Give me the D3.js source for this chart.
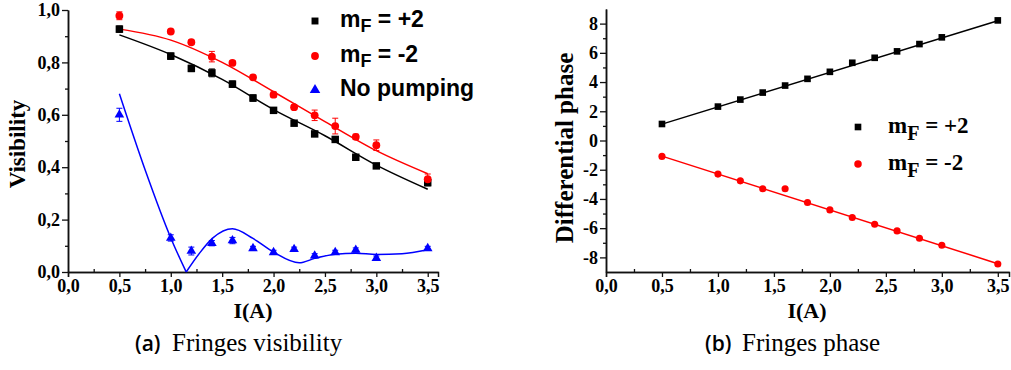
<!DOCTYPE html>
<html>
<head>
<meta charset="utf-8">
<script src="https://cdn.jsdelivr.net/npm/d3@7"></script>
<style>
  body { margin: 0; background: #fff; }
  svg { display: block; }
</style>
</head>
<body>
<script>
// measured currents (A)
const currents = [0.5, 1.0, 1.2, 1.4, 1.6, 1.8, 2.0, 2.2, 2.4, 2.6, 2.8, 3.0, 3.5];

// (a) fringe visibility
const visPlus = [0.927, 0.824, 0.777, 0.76, 0.717, 0.664, 0.617, 0.568, 0.527, 0.506, 0.438, 0.405, 0.341];
const visPlusErr = [0.012, 0.012, 0.012, 0.015, 0.012, 0.012, 0.01, 0.008, 0.008, 0.008, 0.008, 0.008, 0.012];
const visMinus = [0.978, 0.918, 0.877, 0.822, 0.798, 0.743, 0.677, 0.629, 0.598, 0.557, 0.516, 0.484, 0.354];
const visMinusErr = [0.015, 0.008, 0.008, 0.02, 0.008, 0.008, 0.01, 0.008, 0.02, 0.03, 0.01, 0.02, 0.02];
const visNone = [0.60, 0.13, 0.08, 0.11, 0.12, 0.09, 0.075, 0.087, 0.062, 0.075, 0.084, 0.053, 0.09];
const visNoneErr = [0.025, 0.012, 0.015, 0.01, 0.012, 0.008, 0.008, 0.008, 0.008, 0.008, 0.008, 0.008, 0.008];

// fit curves
const fitX = [0.5, 1.0, 1.5, 2.0, 2.5, 3.0, 3.5];
const fitPlus = [0.905, 0.83, 0.735, 0.62, 0.52, 0.408, 0.316];
const fitMinus = [0.927, 0.885, 0.80, 0.688, 0.574, 0.463, 0.375];
const noneFitX1 = [0.5, 0.75, 1.0, 1.15];
const noneFit1 = [0.68, 0.39, 0.13, 0.0];
const noneFitX2 = [1.15, 1.28, 1.41, 1.6, 1.8, 2.0, 2.25, 2.4, 2.6, 2.8, 3.0, 3.25, 3.5];
const noneFit2 = [0.0, 0.072, 0.13, 0.165, 0.128, 0.076, 0.035, 0.052, 0.068, 0.072, 0.067, 0.07, 0.085];

// (b) differential phase
const phasePlus = [1.13, 2.32, 2.8, 3.28, 3.76, 4.22, 4.70, 5.32, 5.66, 6.1, 6.6, 7.06, 8.22];
const phaseMinus = [-1.09, -2.3, -2.76, -3.3, -3.3, -4.24, -4.75, -5.27, -5.73, -6.19, -6.69, -7.17, -8.45];
const phaseFitX = [0.5, 3.5];
const phaseFitPlus = [1.12, 8.2];
const phaseFitMinus = [-1.07, -8.43];

const xTicks = [0, 0.5, 1.0, 1.5, 2.0, 2.5, 3.0, 3.5];
const xMinor = [0.25, 0.75, 1.25, 1.75, 2.25, 2.75, 3.25];
const visTicks = [0, 0.2, 0.4, 0.6, 0.8, 1.0];
const visMinor = [0.1, 0.3, 0.5, 0.7, 0.9];
const phaseTicks = [-8, -6, -4, -2, 0, 2, 4, 6, 8];
const phaseMinor = [-7, -5, -3, -1, 1, 3, 5, 7];

const W = 1011, H = 370;
const serif = "'Liberation Serif', 'Times New Roman', serif";
const sans = "'Liberation Sans', Arial, sans-serif";

const loc = d3.formatLocale({decimal: ",", thousands: ".", grouping: [3], currency: ["", ""], minus: "-"});
const f1 = loc.format(".1f");
const fInt = loc.format("d");

const svg = d3.select("body").append("svg")
    .attr("width", W)
    .attr("height", H);

svg.append("rect").attr("width", W).attr("height", H).attr("fill", "#fff");

function drawAxes(g, x, y, yTicks, yMinor, yFmt) {
    let xa = g.append("g").attr("transform", "translate(0," + y.range()[0] + ")");
    xa.call(d3.axisBottom(x).tickValues(xTicks).tickSize(5).tickPadding(2).tickFormat(f1));
    xa.append("g").call(d3.axisBottom(x).tickValues(xMinor).tickSizeInner(-3).tickSizeOuter(0).tickFormat(""));

    let ya = g.append("g").attr("transform", "translate(" + x.range()[0] + ",0)");
    ya.call(d3.axisLeft(y).tickValues(yTicks).tickSizeInner(6).tickSizeOuter(0).tickPadding(2).tickFormat(yFmt));
    ya.append("g").call(d3.axisLeft(y).tickValues(yMinor).tickSizeInner(3).tickSizeOuter(0).tickFormat(""));

    g.selectAll(".domain").attr("stroke", "#111").attr("stroke-width", 1.5);
    g.selectAll(".tick line").attr("stroke", "#111").attr("stroke-width", 1.3);
    g.selectAll(".tick text")
        .style("font-family", serif)
        .style("font-weight", "bold")
        .style("font-size", "18px")
        .attr("fill", "#000");
}

function errorBars(g, x, y, xs, ys, es, color) {
    let eb = g.append("g");
    xs.forEach(function (xv, i) {
        let x0 = x(xv), y1 = y(ys[i] - es[i]), y2 = y(ys[i] + es[i]);
        eb.append("line").attr("x1", x0).attr("x2", x0).attr("y1", y1).attr("y2", y2)
            .attr("stroke", color).attr("stroke-width", 1);
        [y1, y2].forEach(function (yy) {
            eb.append("line").attr("x1", x0 - 3).attr("x2", x0 + 3).attr("y1", yy).attr("y2", yy)
                .attr("stroke", color).attr("stroke-width", 1);
        });
    });
}

function line(g, x, y, xs, ys, color, curve) {
    g.append("path")
        .datum(xs.map((v, i) => [v, ys[i]]))
        .attr("fill", "none")
        .attr("stroke", color)
        .attr("stroke-width", 1.5)
        .attr("d", d3.line().x(d => x(d[0])).y(d => y(d[1])).curve(curve || d3.curveLinear));
}

function markers(g, x, y, xs, ys, type, size, color) {
    g.append("g").selectAll("path")
        .data(xs.map((v, i) => [v, ys[i]]))
        .enter().append("path")
        .attr("transform", d => "translate(" + x(d[0]) + "," + y(d[1]) + ")")
        .attr("d", d3.symbol().type(type).size(size))
        .attr("fill", color);
}

// ---------- panel (a) ----------
let xa = d3.scaleLinear().domain([0, 3.6]).range([68, 438]);
let ya = d3.scaleLinear().domain([0, 1]).range([272, 10]);
let ga = svg.append("g");
drawAxes(ga, xa, ya, visTicks, visMinor, f1);

line(ga, xa, ya, fitX, fitPlus, "#000", d3.curveMonotoneX);
line(ga, xa, ya, fitX, fitMinus, "#ff0000", d3.curveMonotoneX);
line(ga, xa, ya, noneFitX1, noneFit1, "#0000ff", d3.curveMonotoneX);
line(ga, xa, ya, noneFitX2, noneFit2, "#0000ff", d3.curveMonotoneX);

errorBars(ga, xa, ya, currents, visPlus, visPlusErr, "#000");
errorBars(ga, xa, ya, currents, visMinus, visMinusErr, "#ff0000");
errorBars(ga, xa, ya, currents, visNone, visNoneErr, "#0000ff");
markers(ga, xa, ya, currents, visPlus, d3.symbolSquare, 56, "#000");
markers(ga, xa, ya, currents, visMinus, d3.symbolCircle, 48, "#ff0000");
markers(ga, xa, ya, currents, visNone, d3.symbolTriangle, 40, "#0000ff");

ga.append("text")
    .attr("transform", "translate(25,144) rotate(-90)")
    .attr("text-anchor", "middle")
    .attr("font-family", serif).attr("font-weight", "bold").attr("font-size", 23)
    .text("Visibility");
ga.append("text")
    .attr("x", 253).attr("y", 318)
    .attr("text-anchor", "middle")
    .attr("font-family", serif).attr("font-weight", "bold").attr("font-size", 22)
    .text("I(A)");

// legend (a)
const legA = [
    {sym: d3.symbolSquare, color: "#000", label: ["m", "F", " = +2"], y: 27},
    {sym: d3.symbolCircle, color: "#ff0000", label: ["m", "F", " = -2"], y: 62},
    {sym: d3.symbolTriangle, color: "#0000ff", label: ["No pumping"], y: 96}
];
legA.forEach(function (d) {
    ga.append("path")
        .attr("transform", "translate(315," + (d.y - 6) + ")")
        .attr("d", d3.symbol().type(d.sym).size(48))
        .attr("fill", d.color);
    let t = ga.append("text").attr("x", 340).attr("y", d.y)
        .attr("font-family", sans).attr("font-weight", "bold").attr("font-size", 23);
    if (d.label.length === 1) {
        t.text(d.label[0]);
    } else {
        t.append("tspan").text(d.label[0]);
        t.append("tspan").attr("dy", 5).attr("font-size", 18).text(d.label[1]);
        t.append("tspan").attr("dy", -5).text(d.label[2]);
    }
});

// ---------- panel (b) ----------
let xb = d3.scaleLinear().domain([0, 3.6]).range([606, 1009]);
let yb = d3.scaleLinear().domain([-9, 9]).range([272, 9]);
let gb = svg.append("g");
drawAxes(gb, xb, yb, phaseTicks, phaseMinor, fInt);

line(gb, xb, yb, phaseFitX, phaseFitPlus, "#000");
line(gb, xb, yb, phaseFitX, phaseFitMinus, "#ff0000");
markers(gb, xb, yb, currents, phasePlus, d3.symbolSquare, 44, "#000");
markers(gb, xb, yb, currents, phaseMinus, d3.symbolCircle, 40, "#ff0000");

gb.append("text")
    .attr("transform", "translate(573,148) rotate(-90)")
    .attr("text-anchor", "middle")
    .attr("font-family", serif).attr("font-weight", "bold").attr("font-size", 25)
    .text("Differential phase");
gb.append("text")
    .attr("x", 807).attr("y", 318)
    .attr("text-anchor", "middle")
    .attr("font-family", serif).attr("font-weight", "bold").attr("font-size", 22)
    .text("I(A)");

const legB = [
    {sym: d3.symbolSquare, color: "#000", sign: "+2", y: 133},
    {sym: d3.symbolCircle, color: "#ff0000", sign: "-2", y: 170}
];
legB.forEach(function (d) {
    gb.append("path")
        .attr("transform", "translate(858," + (d.y - 6) + ")")
        .attr("d", d3.symbol().type(d.sym).size(44))
        .attr("fill", d.color);
    let t = gb.append("text").attr("x", 888).attr("y", d.y)
        .attr("font-family", serif).attr("font-weight", "bold").attr("font-size", 23);
    t.append("tspan").text("m");
    t.append("tspan").attr("dy", 7).attr("font-size", 20).text("F");
    t.append("tspan").attr("dy", -7).text(" = " + d.sign);
});

// ---------- captions ----------
function caption(x1, tag, x2, label) {
    svg.append("text").attr("x", x1).attr("y", 351)
        .attr("font-family", "'Open Sans', sans-serif").attr("font-weight", 600).attr("font-size", 21)
        .text(tag);
    svg.append("text").attr("x", x2).attr("y", 351)
        .attr("font-family", serif).attr("font-size", 25)
        .text(label);
}
caption(135, "(a)", 172, "Fringes visibility");
caption(705, "(b)", 742, "Fringes phase");
</script>
</body>
</html>
